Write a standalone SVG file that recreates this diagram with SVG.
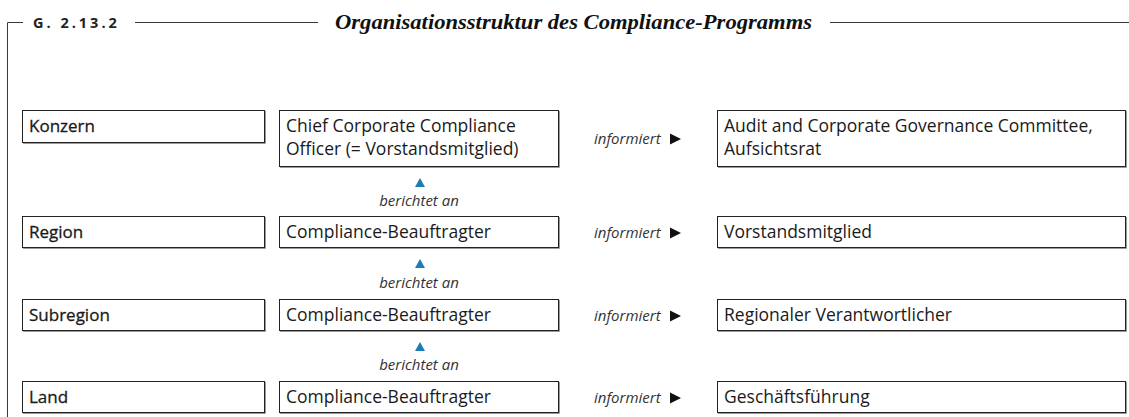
<svg xmlns="http://www.w3.org/2000/svg" xmlns:xlink="http://www.w3.org/1999/xlink" width="1129" height="417" viewBox="0 0 1129 417">
<style>
.frame{fill:none;stroke:#3a3a3a;stroke-width:1}
.box{fill:#fff;stroke:#222;stroke-width:1}
.shadow{fill:none;stroke:#9a9a9a;stroke-width:1}
.t{font-family:"Open Sans","Noto Sans","Liberation Sans",sans-serif;font-size:17.5px;fill:#1a1a1a}
.lab{font-family:"Open Sans","Noto Sans","Liberation Sans",sans-serif;font-size:17px;fill:#1a1a1a;stroke:#1a1a1a;stroke-width:0.3px}
.conn{font-family:"Open Sans","Noto Sans","Liberation Sans",sans-serif;font-size:15px;font-style:italic;fill:#333}
.num{font-family:"Open Sans","Noto Sans","Liberation Sans",sans-serif;font-size:14.5px;font-weight:700;letter-spacing:3px;fill:#222}
.title{font-family:"Liberation Serif","Times New Roman",serif;font-size:21px;font-style:italic;font-weight:bold;fill:#111}
.up{fill:#1a7db5}
.right{fill:#111}
</style>
<defs>
<polygon id="upTri" class="up" points="-5,0 5,0 0,-9"/>
<polygon id="rightTri" class="right" points="0,-5.5 11,0 0,5.5"/>
</defs>
<g id="header">
<path class="frame" d="M7.5,417 V22.5 H23 M135,22.5 H318 M830,22.5 H1129"/>
<text class="num" x="33" y="28">G. 2.13.2</text>
<text class="title" x="335" y="29" textLength="477" lengthAdjust="spacingAndGlyphs">Organisationsstruktur des Compliance-Programms</text>
</g>
<g id="connectors">
<text class="conn" x="594" y="144">informiert</text><use xlink:href="#rightTri" x="670" y="139"/>
<text class="conn" x="594" y="238">informiert</text><use xlink:href="#rightTri" x="670" y="233"/>
<text class="conn" x="594" y="321">informiert</text><use xlink:href="#rightTri" x="670" y="316"/>
<text class="conn" x="594" y="403">informiert</text><use xlink:href="#rightTri" x="670" y="398"/>
<use xlink:href="#upTri" x="420" y="187"/><text class="conn" x="419" y="206" text-anchor="middle">berichtet an</text>
<use xlink:href="#upTri" x="420" y="268"/><text class="conn" x="419" y="288" text-anchor="middle">berichtet an</text>
<use xlink:href="#upTri" x="420" y="351"/><text class="conn" x="419" y="370" text-anchor="middle">berichtet an</text>
</g>
<g id="node-konzern"><path class="shadow" d="M265.5,111 V143.5 H23"/><rect class="box" x="22.5" y="110.5" width="242" height="32"/><text class="lab" x="29" y="132">Konzern</text></g>
<g id="node-ccco"><path class="shadow" d="M559.5,111 V167.5 H280"/><rect class="box" x="279.5" y="110.5" width="279" height="56"/><text class="t" x="286" y="132">Chief Corporate Compliance</text><text class="t" x="286" y="155">Officer (= Vorstandsmitglied)</text></g>
<g id="node-audit"><path class="shadow" d="M1126.5,111 V167.5 H718"/><rect class="box" x="717.5" y="110.5" width="408" height="56"/><text class="t" x="724" y="132">Audit and Corporate Governance Committee,</text><text class="t" x="724" y="155">Aufsichtsrat</text></g>
<g id="node-region"><path class="shadow" d="M265.5,217 V248.5 H23"/><rect class="box" x="22.5" y="216.5" width="242" height="31"/><text class="lab" x="29" y="238">Region</text></g>
<g id="node-cb-region"><path class="shadow" d="M559.5,217 V248.5 H280"/><rect class="box" x="279.5" y="216.5" width="279" height="31"/><text class="t" x="286" y="238">Compliance-Beauftragter</text></g>
<g id="node-vorstand"><path class="shadow" d="M1126.5,217 V248.5 H718"/><rect class="box" x="717.5" y="216.5" width="408" height="31"/><text class="t" x="724" y="238">Vorstandsmitglied</text></g>
<g id="node-subregion"><path class="shadow" d="M265.5,300 V331.5 H23"/><rect class="box" x="22.5" y="299.5" width="242" height="31"/><text class="lab" x="29" y="321">Subregion</text></g>
<g id="node-cb-subregion"><path class="shadow" d="M559.5,300 V331.5 H280"/><rect class="box" x="279.5" y="299.5" width="279" height="31"/><text class="t" x="286" y="321">Compliance-Beauftragter</text></g>
<g id="node-regional"><path class="shadow" d="M1126.5,300 V331.5 H718"/><rect class="box" x="717.5" y="299.5" width="408" height="31"/><text class="t" x="724" y="321">Regionaler Verantwortlicher</text></g>
<g id="node-land"><path class="shadow" d="M265.5,382 V413.5 H23"/><rect class="box" x="22.5" y="381.5" width="242" height="31"/><text class="lab" x="29" y="403">Land</text></g>
<g id="node-cb-land"><path class="shadow" d="M559.5,382 V413.5 H280"/><rect class="box" x="279.5" y="381.5" width="279" height="31"/><text class="t" x="286" y="403">Compliance-Beauftragter</text></g>
<g id="node-gf"><path class="shadow" d="M1126.5,382 V413.5 H718"/><rect class="box" x="717.5" y="381.5" width="408" height="31"/><text class="t" x="724" y="403">Geschäftsführung</text></g>
</svg>
